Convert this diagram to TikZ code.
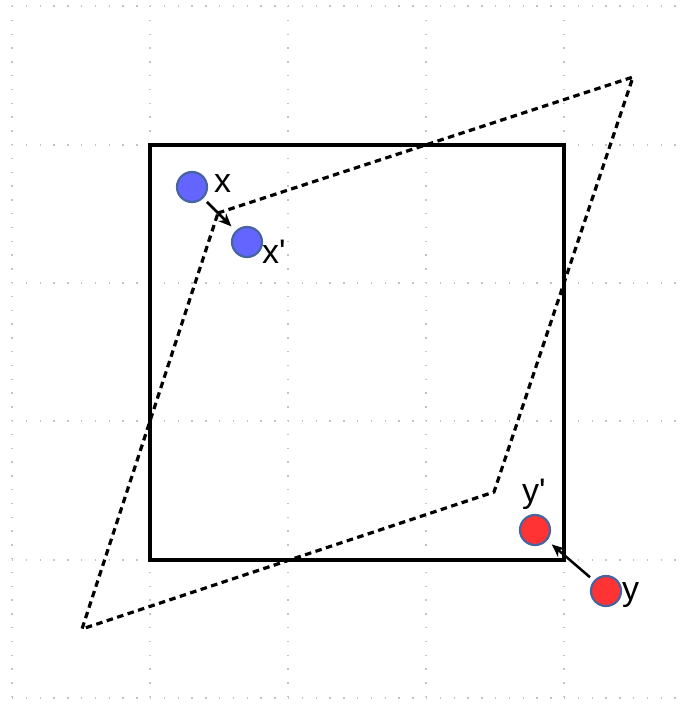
\documentclass[tikz,border=0pt]{standalone}
\usepackage{fontspec}
\setmainfont{Liberation Sans}
\usetikzlibrary{arrows.meta}
\definecolor{gridc}{RGB}{195,195,195}
\definecolor{bluefill}{RGB}{100,100,255}
\definecolor{redfill}{RGB}{255,51,51}
\definecolor{ringc}{RGB}{70,100,160}
\tikzset{
  griddot/.style={gridc, line width=1.3pt, dash pattern=on 1.3pt off 12.5pt},
  dot/.style={circle, draw=ringc, line width=2.2pt, minimum size=30pt, inner sep=0pt},
  bluedot/.style={dot, fill=bluefill},
  reddot/.style={dot, fill=redfill},
  lbl/.style={font=\fontsize{34}{36}\selectfont, inner sep=0pt},
  box/.style={line width=3.4pt},
  shear/.style={line width=3.2pt, dash pattern=on 6.5pt off 4.5pt},
  move/.style={line width=2.5pt, -{Stealth[length=13pt,width=11pt]}, shorten <=5pt, shorten >=6pt}
}
\begin{document}
\begin{tikzpicture}[x=1pt,y=-1pt]
\useasboundingbox (0,0) rectangle (684,704);
% background dotted grid
\foreach \gx in {12,150,288,426,564} {
  \draw[griddot] (\gx,6) -- (\gx,704);
}
\foreach \gy in {6,145,283,421,560,698} {
  \draw[griddot] (12,\gy) -- (684,\gy);
}
% square
\coordinate (s1) at (150,145);
\coordinate (s2) at (564,560);
\draw[box] (s1) rectangle (s2);
% sheared parallelogram
\coordinate (p1) at (218,213);
\coordinate (p2) at (633,77);
\coordinate (p3) at (494,492);
\coordinate (p4) at (82,629);
\draw[shear] (p1) -- (p2) -- (p3) -- (p4) -- cycle;
% points
\node[bluedot] (x) at (192,187) {};
\node[bluedot] (xp) at (247,242) {};
\node[reddot] (yp) at (535,530) {};
\node[reddot] (y) at (606,591) {};
% labels
\node[lbl, anchor=base west] (xl) at (214,192) {x};
\node[lbl, anchor=base west] (xpl) at (262,263) {x\textquotesingle};
\node[lbl, anchor=base west] (ypl) at (522,502) {y\textquotesingle};
\node[lbl, anchor=base west] (yl) at (622,600) {y};
% arrows
\draw[move] (x) -- (xp);
\draw[move] (y) -- (yp);
\end{tikzpicture}
\end{document}
